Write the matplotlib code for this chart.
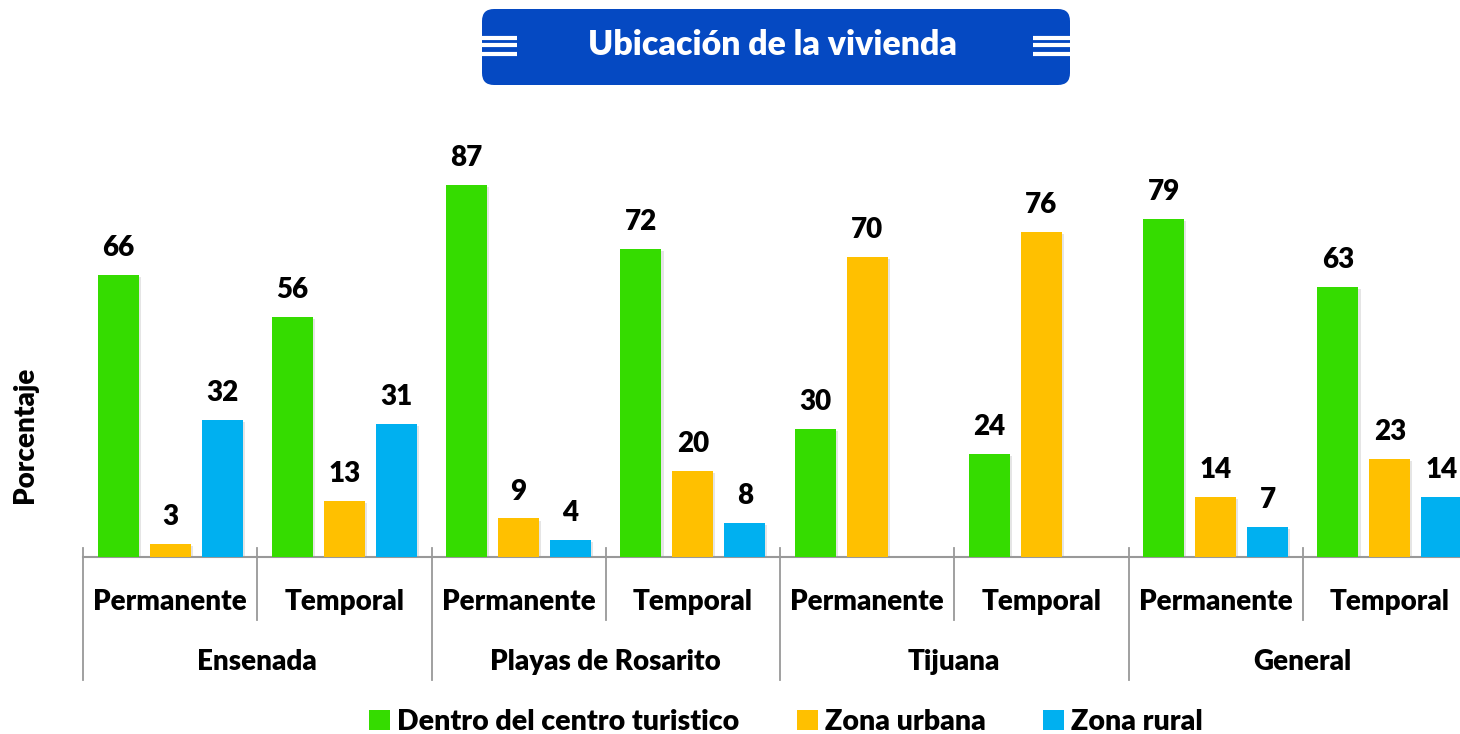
import numpy as np
import matplotlib.pyplot as plt
from matplotlib.patches import FancyBboxPatch, Patch
import matplotlib.patheffects as pe

plt.rcParams['font.family'] = ['Lato', 'DejaVu Sans']

groups = ["Ensenada", "Playas de Rosarito", "Tijuana", "General"]
kinds = ["Permanente", "Temporal"]
series = ["Dentro del centro turistico", "Zona urbana", "Zona rural"]
centro = [66, 56, 87, 72, 30, 24, 79, 63]
urbana = [3, 13, 9, 20, 70, 76, 14, 23]
rural = [32, 31, 4, 8, np.nan, np.nan, 7, 14]
colors = ["#35DC00", "#FFC000", "#00B0F0"]

W, H = 1460, 734
fig = plt.figure(figsize=(W / 100, H / 100), dpi=100)
FS = 20

# main axes (right edge runs past the figure like the original)
x0, x1, ybase, ytop = 83, 1477, 557, 129
ax = fig.add_axes([x0 / W, 1 - ybase / H, (x1 - x0) / W, (ybase - ytop) / H])
n = len(centro)
ax.set_xlim(0, n)
ax.set_ylim(0, 100)
for s in ["top", "right", "left"]:
    ax.spines[s].set_visible(False)
ax.spines["bottom"].set_color("#999999")
ax.spines["bottom"].set_linewidth(1.5)
ax.set_xticks([])
ax.set_yticks([])

offsets = [-0.298, 0.0, 0.298]
width = 0.235
shadow = [pe.SimplePatchShadow(offset=(1.5, -1.5), shadow_rgbFace="#999999", alpha=0.25), pe.Normal()]
xc = np.arange(n) + 0.5
for vals, off, col in zip([centro, urbana, rural], offsets, colors):
    v = np.array(vals, dtype=float)
    bars = ax.bar(xc + off, v, width=width, color=col, zorder=3)
    for b in bars:
        b.set_path_effects(shadow)
    for xi, vi in zip(xc + off, v):
        if not np.isnan(vi):
            ax.text(xi, vi + 6.3, f"{vi:.0f}", ha="center", va="center",
                    fontsize=FS, fontweight="heavy")

# category axis labels and separators
for i in range(n):
    ax.text(i + 0.5, -10.5, kinds[i % 2], ha="center", va="center",
            fontsize=FS, fontweight="heavy", clip_on=False)
for i in range(n + 1):
    low = -28.7 if i % 2 == 0 else -14.7
    ax.plot([i, i], [2.1, low], color="#999999", lw=1.3, clip_on=False)
for g, name in enumerate(groups):
    ax.text(2 * g + 1, -24.5, name, ha="center", va="center",
            fontsize=FS, fontweight="heavy", clip_on=False)

fig.text(25 / W, 1 - 435 / H, "Porcentaje", rotation=90, ha="center", va="center",
         fontsize=FS, fontweight="heavy")

# legend
handles = [Patch(facecolor=c) for c in colors]
fig.legend(handles, series, loc="center", bbox_to_anchor=(786 / W, 1 - 722 / H), ncol=3,
           frameon=False, handlelength=0.75, handleheight=0.75, handletextpad=0.25,
           columnspacing=2.0, prop={"size": 20.5, "weight": "heavy"})

# title box
bx0, bx1, by0, by1 = 482, 1070, 9, 85
bw, bh = bx1 - bx0, by1 - by0
tax = fig.add_axes([bx0 / W, 1 - by1 / H, bw / W, bh / H])
tax.set_xlim(0, bw)
tax.set_ylim(0, bh)
tax.axis("off")
tax.add_patch(FancyBboxPatch((12, 12), bw - 24, bh - 24,
                             boxstyle="round,pad=12", fc="#0549C2", ec="none"))
for yy in [47, 40, 31]:
    tax.plot([0, 35], [yy, yy], color="white", lw=3, solid_capstyle="butt")
    tax.plot([bw - 37, bw], [yy, yy], color="white", lw=3, solid_capstyle="butt")
tax.text(bw / 2 - 3, bh / 2 + 2, "Ubicación de la vivienda", ha="center",
         va="center", color="white", fontsize=24.3, fontweight="heavy")

fig.savefig("out.png", dpi=100)
